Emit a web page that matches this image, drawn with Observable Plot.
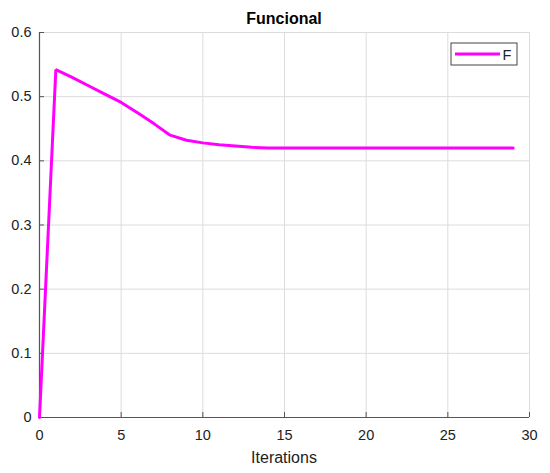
<!DOCTYPE html>
<html>
<head>
<meta charset="utf-8">
<script src="https://cdn.jsdelivr.net/npm/d3@7"></script>
<script src="https://cdn.jsdelivr.net/npm/@observablehq/plot@0.6"></script>
<style>
  html, body { margin: 0; padding: 0; background: #fff; }
  #chart { width: 550px; height: 473px; }
  svg { font-family: "Liberation Sans", Arial, sans-serif; }
</style>
</head>
<body>
<div id="chart"></div>
<script>
const title = "Funcional";
const xLabel = "Iterations";
const seriesName = "F";
const iterations = [0,1,2,3,4,5,6,7,8,9,10,11,12,13,14,15,16,17,18,19,20,21,22,23,24,25,26,27,28,29];
const F = [0, 0.542, 0.530, 0.517, 0.504, 0.491, 0.475, 0.458, 0.440, 0.432, 0.428, 0.425, 0.423, 0.421,
           0.420, 0.420, 0.420, 0.420, 0.420, 0.420, 0.420, 0.420, 0.420, 0.420, 0.420, 0.420, 0.420, 0.420, 0.420, 0.420];
const xTicks = [0, 5, 10, 15, 20, 25, 30];
const yTicks = [0, 0.1, 0.2, 0.3, 0.4, 0.5, 0.6];

const data = iterations.map((it, i) => ({it, v: F[i]}));

const W = 550, H = 473;
const mL = 39, mR = 21, mT = 32, mB = 56;

const plot = Plot.plot({
  width: W, height: H,
  marginLeft: mL, marginRight: mR, marginTop: mT, marginBottom: mB,
  style: {fontFamily: "'Liberation Sans', Arial, sans-serif", fontSize: "14.5px", color: "#222", background: "#fff"},
  x: {domain: [0, 30], ticks: xTicks},
  y: {domain: [0, 0.6], ticks: yTicks},
  marks: [
    Plot.gridX(xTicks, {stroke: "#dcdcdc", strokeOpacity: 1, strokeWidth: 1}),
    Plot.gridY(yTicks, {stroke: "#dcdcdc", strokeOpacity: 1, strokeWidth: 1}),
    Plot.ruleX([0], {stroke: "#555", strokeWidth: 1.2}),
    Plot.ruleY([0], {stroke: "#555", strokeWidth: 1.2}),
    Plot.axisX(xTicks, {tickSize: -5, tickPadding: 17, stroke: "#555", fontSize: 14.5, fill: "#222", label: null, tickFormat: d => String(d)}),
    Plot.axisY(yTicks, {tickSize: -5, tickPadding: 13, stroke: "#555", fontSize: 14.5, fill: "#222", label: null, tickFormat: d => d === 0 ? "0" : d3.format(".1f")(d)}),
    Plot.line(data, {x: "it", y: "v", stroke: "#ff00ff", strokeWidth: 3, strokeLinejoin: "miter"})
  ]
});

document.getElementById("chart").appendChild(plot);

const svg = d3.select(plot);
const plotCenter = (mL + (W - mR)) / 2;
svg.append("text")
  .attr("x", plotCenter).attr("y", 24)
  .attr("text-anchor", "middle")
  .attr("font-size", 16).attr("font-weight", "bold").attr("fill", "#000")
  .text(title);
svg.append("text")
  .attr("x", plotCenter).attr("y", 463)
  .attr("text-anchor", "middle")
  .attr("font-size", 16).attr("fill", "#222")
  .text(xLabel);

const lg = svg.append("g");
lg.append("rect").attr("x", 451).attr("y", 43).attr("width", 66).attr("height", 22)
  .attr("fill", "#fff").attr("stroke", "#444").attr("stroke-width", 1);
lg.append("line").attr("x1", 455).attr("x2", 500).attr("y1", 54).attr("y2", 54)
  .attr("stroke", "#ff00ff").attr("stroke-width", 3);
lg.append("text").attr("x", 507).attr("y", 59.5).attr("font-size", 14.5).attr("fill", "#222").text(seriesName);
</script>
</body>
</html>
